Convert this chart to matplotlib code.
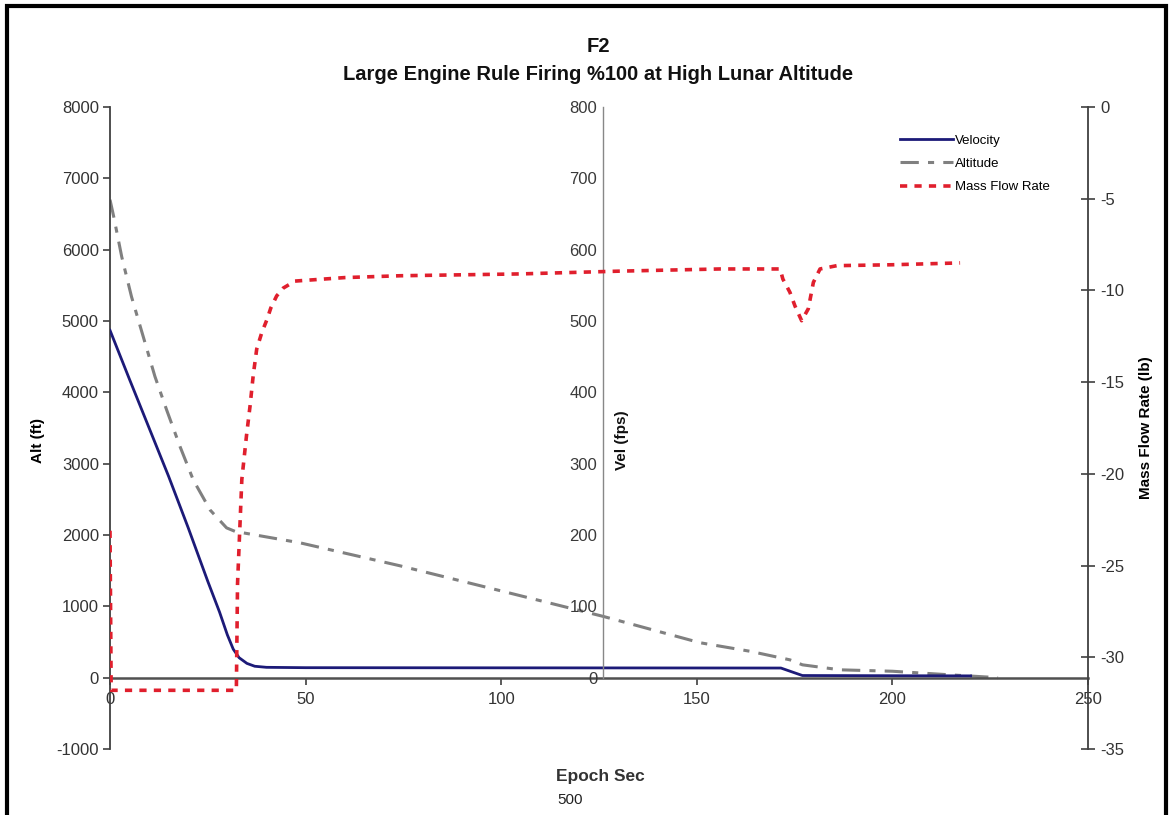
import matplotlib
matplotlib.use("Agg")
import matplotlib.pyplot as plt
from matplotlib.lines import Line2D
from matplotlib.patches import Rectangle

plt.rcParams['font.family'] = ['Liberation Sans', 'DejaVu Sans']
plt.rcParams['axes.unicode_minus'] = False

# ---- data -------------------------------------------------------------
t_alt = [0, 1, 3, 5.5, 8.5, 11.5, 14.5, 17.9, 21.3, 25.6, 29.8, 32, 48.6, 74,
         99.7, 126, 150.8, 163.6, 173.8, 177, 186.6, 200, 214.7, 227]
altitude = [6700, 6450, 5900, 5340, 4780, 4220, 3750, 3240, 2770, 2350, 2100, 2050,
            1890, 1570, 1220, 860, 490, 370, 250, 180, 110, 90, 40, 0]

t_vel = [0, 5, 10, 15, 20, 25, 28, 30, 31.5, 33, 35, 37, 40, 50, 171.5, 177, 220]
velocity = [487, 418, 350, 282, 210, 135, 92, 60, 40, 28, 20, 16, 14.5, 14, 13.5, 3, 2.5]

t_mfr = [0, 0.3, 32.3, 32.6, 33.7, 34.9, 35.8, 36.6, 37.5, 38.8, 40.1, 41.1, 42.6,
         44.3, 47.3, 60, 74.1, 104.8, 130, 155.9, 171.3, 172, 173.8, 175.1, 176.8,
         178.5, 179.8, 181.5, 185.8, 200, 217.3]
mass_flow = [-23.1, -31.8, -31.8, -26, -20.3, -17.9, -16.3, -14.65, -13.2, -12.3,
             -11.6, -10.96, -10.3, -9.87, -9.49, -9.3, -9.2, -9.1, -8.95, -8.83,
             -8.83, -9.38, -10.1, -10.85, -11.65, -11.0, -9.56, -8.83, -8.65, -8.6, -8.5]

x_ticks = [0, 50, 100, 150, 200, 250]
alt_ticks = list(range(-1000, 8001, 1000))
vel_ticks = list(range(0, 801, 100))
mfr_ticks = list(range(-35, 1, 5))

# ---- styles -----------------------------------------------------------
NAVY = '#1c1a78'
GRAY = '#808080'
RED = '#e01f2d'
AXC = '#404040'
TXT = '#333333'

fig = plt.figure(figsize=(11.72, 8.15), dpi=100)
ax = fig.add_axes([110 / 1172, 1 - 749 / 815, 978 / 1172, 642 / 815])
ax.patch.set_alpha(0)

# altitude axis (left) with the x axis crossing at zero
ax.set_xlim(0, 250)
ax.set_ylim(-1000, 8000)
ax.set_yticks(alt_ticks)
ax.set_xticks(x_ticks)
for s in ('top', 'right'):
    ax.spines[s].set_visible(False)
ax.spines['bottom'].set_position(('data', 0))
ax.spines['bottom'].set_color('#505050')
ax.spines['bottom'].set_linewidth(1.8)
ax.spines['left'].set_color(AXC)
ax.spines['left'].set_linewidth(1.3)
ax.tick_params(axis='y', direction='out', length=5, width=1.2, color=AXC,
               labelsize=12, labelcolor=TXT, pad=3)
ax.tick_params(axis='x', direction='out', length=5, width=1.2, color=AXC,
               labelsize=12, labelcolor=TXT, pad=5)
ax.set_ylabel('Alt (ft)', fontsize=11, fontweight='bold')
ax.yaxis.set_label_coords(-0.066, 0.481)

ax.plot(t_alt, altitude, color=GRAY, lw=2.2, dashes=(6, 3, 2, 3))

# velocity axis (centre)
axv = ax.twinx()
axv.patch.set_alpha(0)
axv.set_ylim(-100, 800)
axv.set_yticks(vel_ticks)
for s in ('top', 'right', 'bottom'):
    axv.spines[s].set_visible(False)
axv.spines['left'].set_position(('data', 126))
axv.spines['left'].set_bounds(0, 800)
axv.spines['left'].set_color('#888888')
axv.spines['left'].set_linewidth(1.0)
axv.yaxis.set_ticks_position('left')
axv.yaxis.set_label_position('right')
axv.tick_params(axis='y', length=0, labelsize=12, labelcolor='#3a3a3a', pad=4)
axv.plot(t_vel, velocity, color=NAVY, lw=2.0)

# mass flow axis (right)
axm = ax.twinx()
axm.patch.set_alpha(0)
axm.set_ylim(-35, 0)
axm.set_yticks(mfr_ticks)
for s in ('top', 'left', 'bottom'):
    axm.spines[s].set_visible(False)
axm.spines['right'].set_color(AXC)
axm.spines['right'].set_linewidth(1.3)
axm.tick_params(axis='y', direction='inout', length=10, width=1.2, color=AXC,
                labelsize=12, labelcolor=TXT, pad=4)
axm.set_ylabel('Mass Flow Rate (lb)', fontsize=11, fontweight='bold', labelpad=10)
axm.plot(t_mfr, mass_flow, color=RED, lw=2.6, dashes=(2, 2))

# titles and labels
fig.text(598 / 1172, 1 - 47 / 815, 'F2', ha='center', va='center',
         fontsize=14.5, fontweight='bold', color='#111111')
fig.text(598 / 1172, 1 - 74 / 815,
         'Large Engine Rule Firing %100 at High Lunar Altitude',
         ha='center', va='center', fontsize=14.5, fontweight='bold', color='#111111')
fig.text(622 / 1172, 1 - 440 / 815, 'Vel (fps)', rotation=90, ha='center',
         va='center', fontsize=11, fontweight='bold', color='#111111')
fig.text(600 / 1172, 1 - 777 / 815, 'Epoch Sec', ha='center', va='center',
         fontsize=12.5, fontweight='bold', color='#333333')
fig.text(570 / 1172, 1 - 800 / 815, '500', ha='center', va='center',
         fontsize=11, color='#222222')

# legend
handles = [
    Line2D([], [], color=NAVY, lw=2.0),
    Line2D([], [], color=GRAY, lw=2.2, dashes=(6, 3, 2, 3)),
    Line2D([], [], color=RED, lw=2.6, dashes=(2, 2)),
]
leg = axm.legend(handles, ['Velocity', 'Altitude', 'Mass Flow Rate'],
                 loc='upper left', bbox_to_anchor=(785 / 978, 1 - 22 / 642),
                 frameon=False, fontsize=9.5, handlelength=4.0, handletextpad=0.15,
                 labelspacing=0.85, borderaxespad=0)

# outer frame
fig.patches.append(Rectangle((6.5 / 1172, -0.05), (1166 - 6.5) / 1172,
                             1.05 - 6.5 / 815, transform=fig.transFigure,
                             fill=False, edgecolor='black', linewidth=3.0))

fig.savefig('out.png', dpi=100)
